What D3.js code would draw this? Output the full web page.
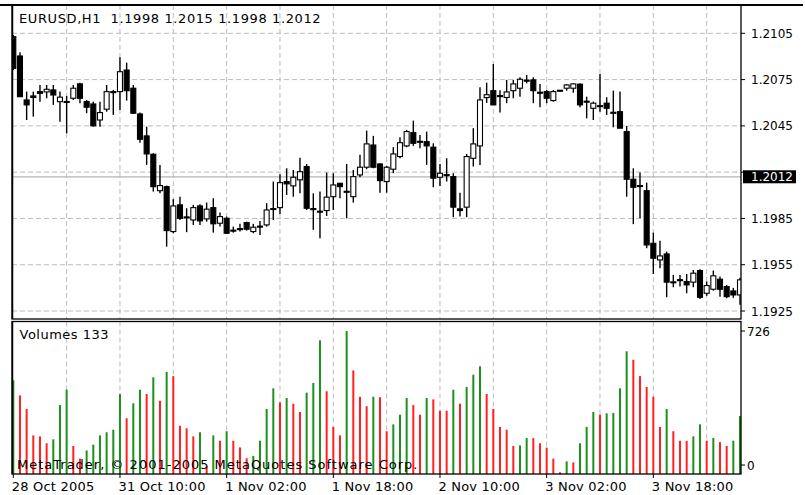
<!DOCTYPE html>
<html><head><meta charset="utf-8">
<script src="https://cdn.jsdelivr.net/npm/d3@7"></script>
<style>body{margin:0;background:#fff}svg{display:block}text{font-family:"DejaVu Sans",Verdana,sans-serif}</style>
</head><body><svg id="c" width="805" height="495"></svg>
<script>
const title = "EURUSD,H1  1.1998 1.2015 1.1998 1.2012";
const volumeLabel = "Volumes 133";
const copyright = "MetaTrader, \u00a9 2001-2005 MetaQuotes Software Corp.";
const dateLabels = ["28 Oct 2005","31 Oct 10:00","1 Nov 02:00","1 Nov 18:00","2 Nov 10:00","3 Nov 02:00","3 Nov 18:00"];
const dateLabelBars = [0,16,32,48,64,80,96];
const priceTicks = [1.2105,1.2075,1.2045,1.2015,1.1985,1.1955,1.1925];
const currentPrice = 1.2012;
const volumeTicks = [726, 0];

const open = [
1.21028,1.20903,1.20618,1.20644,1.20672,1.20670,1.20683,1.20607,1.20608,1.20629,
1.20722,1.20607,1.20592,1.20488,1.20558,1.20672,1.20672,1.20812,1.20694,1.20527,
1.20385,1.20266,1.20030,1.20056,1.19765,1.19938,1.19860,1.19840,1.19931,1.19847,
1.19920,1.19819,1.19851,1.19774,1.19784,1.19823,1.19765,1.19800,1.19808,1.19914,
1.19920,1.20089,1.20061,1.20100,1.20186,1.19914,1.19897,1.19901,1.19991,1.20078,
1.20026,1.19991,1.20132,1.20182,1.20326,1.20203,1.20089,1.20169,1.20251,1.20320,
1.20406,1.20350,1.20348,1.20312,1.20117,1.20134,1.20121,1.19912,1.19923,1.20240,
1.20320,1.20633,1.20678,1.20646,1.20634,1.20678,1.20694,1.20746,1.20748,1.20668,
1.20672,1.20614,1.20681,1.20694,1.20694,1.20720,1.20610,1.20564,1.20581,1.20597,
1.20538,1.20542,1.20413,1.20104,1.20063,1.20030,1.19689,1.19581,1.19620,1.19439,
1.19453,1.19441,1.19437,1.19512,1.19365,1.19391,1.19456,1.19408,1.19380,1.19354];
const high = [
1.21039,1.20927,1.20672,1.20672,1.20715,1.20715,1.20715,1.20672,1.20644,1.20715,
1.20730,1.20618,1.20607,1.20607,1.20715,1.20683,1.20895,1.20860,1.20715,1.20536,
1.20445,1.20273,1.20197,1.20063,1.19975,1.19991,1.19916,1.19938,1.19942,1.19953,
1.19981,1.19888,1.19862,1.19797,1.19815,1.19829,1.19815,1.19834,1.19949,1.20089,
1.20137,1.20175,1.20164,1.20244,1.20203,1.20013,1.20024,1.20147,1.20143,1.20078,
1.20203,1.20164,1.20262,1.20419,1.20385,1.20208,1.20190,1.20312,1.20376,1.20424,
1.20484,1.20391,1.20413,1.20337,1.20203,1.20240,1.20143,1.20017,1.20268,1.20435,
1.20700,1.20730,1.20851,1.20681,1.20748,1.20748,1.20765,1.20780,1.20765,1.20722,
1.20683,1.20683,1.20683,1.20720,1.20726,1.20726,1.20639,1.20607,1.20787,1.20636,
1.20678,1.20672,1.20450,1.20175,1.20147,1.20082,1.19758,1.19706,1.19635,1.19484,
1.19484,1.19490,1.19516,1.19521,1.19441,1.19512,1.19473,1.19419,1.19400,1.19465];
const low = [
1.20812,1.20637,1.20488,1.20510,1.20607,1.20629,1.20586,1.20477,1.20402,1.20618,
1.20597,1.20532,1.20445,1.20445,1.20542,1.20521,1.20553,1.20614,1.20527,1.20341,
1.20197,1.20024,1.20013,1.19667,1.19754,1.19840,1.19761,1.19808,1.19808,1.19829,
1.19758,1.19797,1.19750,1.19758,1.19765,1.19771,1.19754,1.19743,1.19797,1.19840,
1.19879,1.20002,1.19991,1.20013,1.19905,1.19776,1.19722,1.19866,1.19905,1.19981,
1.19851,1.19953,1.20117,1.20169,1.20175,1.20017,1.20017,1.20143,1.20240,1.20312,
1.20320,1.20305,1.20197,1.20052,1.20061,1.20089,1.19858,1.19862,1.19858,1.20186,
1.20197,1.20599,1.20586,1.20536,1.20597,1.20629,1.20639,1.20726,1.20597,1.20571,
1.20597,1.20607,1.20672,1.20678,1.20665,1.20571,1.20499,1.20488,1.20542,1.20521,
1.20441,1.20435,1.19991,1.19813,1.19851,1.19657,1.19490,1.19527,1.19339,1.19404,
1.19408,1.19365,1.19404,1.19327,1.19348,1.19382,1.19343,1.19333,1.19335,1.19290];
const close = [
1.20823,1.20639,1.20586,1.20634,1.20661,1.20687,1.20650,1.20636,1.20606,1.20694,
1.20629,1.20571,1.20450,1.20536,1.20672,1.20668,1.20801,1.20678,1.20532,1.20363,
1.20268,1.20056,1.20063,1.19771,1.19931,1.19851,1.19855,1.19920,1.19834,1.19910,
1.19815,1.19862,1.19754,1.19769,1.19779,1.19780,1.19793,1.19795,1.19905,1.19910,
1.20082,1.20074,1.20117,1.20153,1.19916,1.19907,1.19892,1.19988,1.20067,1.20056,
1.20022,1.20121,1.20182,1.20333,1.20182,1.20095,1.20182,1.20268,1.20341,1.20413,
1.20337,1.20346,1.20320,1.20111,1.20143,1.20130,1.19923,1.19901,1.20251,1.20333,
1.20618,1.20652,1.20586,1.20642,1.20670,1.20722,1.20752,1.20741,1.20678,1.20663,
1.20629,1.20672,1.20676,1.20715,1.20722,1.20586,1.20605,1.20597,1.20577,1.20564,
1.20534,1.20435,1.20104,1.20052,1.20059,1.19678,1.19592,1.19607,1.19437,1.19434,
1.19450,1.19419,1.19495,1.19339,1.19415,1.19478,1.19391,1.19343,1.19354,1.19452];
const volume = [
476,399,330,196,191,156,176,350,428,142,
78,120,149,196,212,225,406,283,359,428,
406,491,372,518,497,245,232,191,212,39,
196,169,217,169,135,80,92,169,330,435,
364,386,357,315,413,462,679,420,239,196,
726,526,392,344,392,390,217,252,301,386,
350,301,386,379,321,321,428,357,442,504,
547,406,330,239,225,142,145,183,182,156,
134,78,9,64,59,156,239,315,301,308,
310,435,623,580,497,442,392,239,330,217,
169,168,191,252,169,183,162,142,169,294];

const svg = d3.select("#c");
const L = 12, R = 741, mainTop = 5, mainBottom = 319, volTop = 321.5, volBottom = 474;
const n = open.length;
const x = d3.scaleLinear().domain([0, n - 1]).range([13.3, 740]);
const y = d3.scaleLinear().domain([1.1925, 1.2105]).range([311, 33.3]);
const yv = d3.scaleLinear().domain([0, 726]).range([474, 331]);
const gridColor = "#bdbdbd";

svg.append("rect").attr("width", 805).attr("height", 495).attr("fill", "#fff");
const defs = svg.append("defs");
defs.append("clipPath").attr("id", "cm").append("rect").attr("x", L).attr("y", mainTop).attr("width", R - L).attr("height", mainBottom - mainTop);
defs.append("clipPath").attr("id", "cv").append("rect").attr("x", L).attr("y", volTop).attr("width", R - L).attr("height", volBottom - volTop);

// vertical grid (every 8 bars)
const gridBars = d3.range(8, n, 8);
[[mainTop, mainBottom], [volTop, volBottom]].forEach(([t, b]) => {
  svg.append("g").selectAll("line").data(gridBars).join("line")
    .attr("x1", d => x(d)).attr("x2", d => x(d)).attr("y1", t).attr("y2", b)
    .attr("stroke", gridColor).attr("stroke-width", 1).attr("stroke-dasharray", "5,3");
});
// horizontal grid
svg.append("g").selectAll("line").data(priceTicks).join("line")
  .attr("x1", L).attr("x2", R).attr("y1", d => y(d)).attr("y2", d => y(d))
  .attr("stroke", gridColor).attr("stroke-width", 1).attr("stroke-dasharray", "5,3");
// current price line
svg.append("line").attr("x1", L).attr("x2", R).attr("y1", y(currentPrice)).attr("y2", y(currentPrice))
  .attr("stroke", "#b4b4b4").attr("stroke-width", 1.2);

// candles
const cg = svg.append("g").attr("clip-path", "url(#cm)");
const idx = d3.range(n);
cg.selectAll("line.w").data(idx).join("line").attr("class", "w")
  .attr("x1", i => x(i)).attr("x2", i => x(i)).attr("y1", i => y(high[i])).attr("y2", i => y(low[i]))
  .attr("stroke", "#000").attr("stroke-width", 1.4);
cg.selectAll("rect.b").data(idx).join("rect").attr("class", "b")
  .attr("x", i => x(i) - 2.5).attr("width", 5)
  .attr("y", i => y(Math.max(open[i], close[i])))
  .attr("height", i => Math.max(1, Math.abs(y(open[i]) - y(close[i]))))
  .attr("fill", i => close[i] >= open[i] ? "#fff" : "#000")
  .attr("stroke", "#000").attr("stroke-width", 1.1);

// volumes
const vg = svg.append("g").attr("clip-path", "url(#cv)");
vg.selectAll("rect").data(idx).join("rect")
  .attr("x", i => x(i) - 1).attr("width", 2)
  .attr("y", i => yv(volume[i])).attr("height", i => yv(0) - yv(volume[i]))
  .attr("fill", i => (i === 0 || volume[i] > volume[i - 1]) ? "#1e901e" : "#ff2020");

// borders
svg.append("line").attr("x1", 0).attr("x2", 803).attr("y1", 5).attr("y2", 5).attr("stroke", "#000").attr("stroke-width", 2);
[[mainTop, mainBottom], [volTop, volBottom]].forEach(([t, b]) => {
  svg.append("rect").attr("x", L).attr("y", t).attr("width", R - L).attr("height", b - t)
    .attr("fill", "none").attr("stroke", "#000").attr("stroke-width", 1.3);
  svg.append("line").attr("x1", L + 0.5).attr("x2", L + 0.5).attr("y1", t).attr("y2", b).attr("stroke", "#000").attr("stroke-width", 1.5);
});

// right price axis
const cy = y(currentPrice);
svg.append("g").selectAll("line").data(priceTicks).join("line")
  .attr("x1", R).attr("x2", R + 4).attr("y1", d => y(d)).attr("y2", d => y(d)).attr("stroke", "#000");
svg.append("g").selectAll("text").data(priceTicks.filter(t => Math.abs(y(t) - cy) > 10)).join("text")
  .attr("x", 751).attr("y", d => y(d) + 4.5).attr("font-size", 12).attr("fill", "#000")
  .text(d => d3.format(".4f")(d));
svg.append("rect").attr("x", 743).attr("y", cy - 6.5).attr("width", 53).attr("height", 13).attr("fill", "#000");
svg.append("text").attr("x", 751).attr("y", cy + 4.5).attr("font-size", 12).attr("fill", "#fff").text(d3.format(".4f")(currentPrice));

// volume axis
volumeTicks.forEach(t => {
  const ty = Math.max(volTop + 9, Math.min(volBottom - 9, yv(t)));
  svg.append("line").attr("x1", R).attr("x2", R + 4).attr("y1", ty).attr("y2", ty).attr("stroke", "#000");
  svg.append("text").attr("x", 747).attr("y", ty + 4.5).attr("font-size", 12).attr("fill", "#000").text(t);
});

// date axis
svg.append("g").selectAll("line").data(dateLabelBars).join("line")
  .attr("x1", d => x(d)).attr("x2", d => x(d)).attr("y1", volBottom).attr("y2", volBottom + 4).attr("stroke", "#000");
svg.append("g").selectAll("text").data(dateLabels).join("text")
  .attr("x", (d, k) => x(dateLabelBars[k]) - 1.5).attr("y", 491).attr("font-size", 13)
  .attr("letter-spacing", 0.2).attr("fill", "#000").text(d => d);

// texts
svg.append("text").attr("x", 19).attr("y", 22.5).attr("font-size", 13).attr("letter-spacing", 0.6)
  .attr("xml:space", "preserve").style("white-space", "pre").attr("fill", "#000").text(title);
svg.append("text").attr("x", 19.5).attr("y", 338.5).attr("font-size", 13).attr("letter-spacing", 0.5)
  .attr("fill", "#000").text(volumeLabel);
svg.append("text").attr("x", 17).attr("y", 468.5).attr("font-size", 13).attr("letter-spacing", 1)
  .attr("fill", "#000").text(copyright);
</script></body></html>
